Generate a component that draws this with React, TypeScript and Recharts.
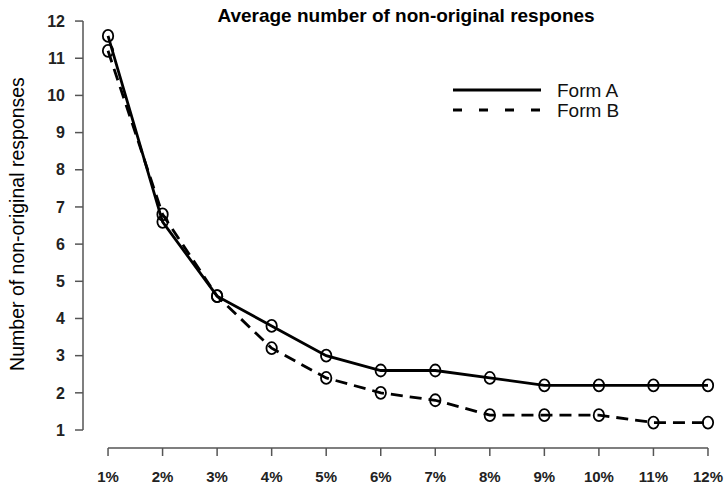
import React from "react";
import { LineChart, Line, XAxis, YAxis, ReferenceLine } from "recharts";

const categories = ["1%", "2%", "3%", "4%", "5%", "6%", "7%", "8%", "9%", "10%", "11%", "12%"];
const formA = [11.6, 6.6, 4.6, 3.8, 3.0, 2.6, 2.6, 2.4, 2.2, 2.2, 2.2, 2.2];
const formB = [11.2, 6.8, 4.6, 3.2, 2.4, 2.0, 1.8, 1.4, 1.4, 1.4, 1.2, 1.2];
const yTicks = [1, 2, 3, 4, 5, 6, 7, 8, 9, 10, 11, 12];
const xTicks = categories.map((_, i) => i + 1);

const data = categories.map((label, i) => ({ x: i + 1, label, a: formA[i], b: formB[i] }));

const FONT = '"Liberation Sans", Arial, sans-serif';
const AXIS = "#555";
// domains picked so the axes sit detached from the data, like base R plots
const X_DOMAIN: [number, number] = [0.541, 12.147];
const Y_DOMAIN: [number, number] = [0.516, 12.19];

const ODot = (props: any) => {
  const { cx, cy, index } = props;
  if (cx == null || cy == null) return null;
  return <ellipse key={index} cx={cx} cy={cy} rx={5.2} ry={6} fill="none" stroke="#000" strokeWidth={1.8} />;
};

export default function App() {
  return (
    <div style={{ position: "absolute", left: 0, top: 0, width: 724, height: 487, background: "#fff", fontFamily: FONT }}>
      <div
        style={{
          position: "absolute",
          left: 406,
          top: 5,
          transform: "translateX(-50%)",
          fontSize: 19,
          fontWeight: "bold",
          whiteSpace: "nowrap",
          color: "#000",
        }}
      >
        Average number of non-original respones
      </div>
      <div
        style={{
          position: "absolute",
          left: 17,
          top: 224,
          transform: "translate(-50%, -50%) rotate(-90deg)",
          fontSize: 19.5,
          whiteSpace: "nowrap",
          color: "#000",
        }}
      >
        Number of non-original responses
      </div>
      <svg width={180} height={44} style={{ position: "absolute", left: 453, top: 80 }}>
        <line x1={0} y1={10} x2={88} y2={10} stroke="#000" strokeWidth={3} />
        <line x1={0} y1={30} x2={88} y2={30} stroke="#000" strokeWidth={3} strokeDasharray="9 17" />
        <text x={104} y={17} fontSize={19} fontFamily={FONT} fill="#111">Form A</text>
        <text x={104} y={37} fontSize={19} fontFamily={FONT} fill="#111">Form B</text>
      </svg>
      <LineChart width={724} height={487} data={data} margin={{ top: 14, right: 8, bottom: 0, left: 23 }}>
        <XAxis
          dataKey="x"
          type="number"
          domain={X_DOMAIN}
          ticks={xTicks}
          tickFormatter={(v) => categories[v - 1]}
          height={39}
          axisLine={false}
          tickLine={{ stroke: AXIS, strokeWidth: 1.5 }}
          tickSize={8}
          tickMargin={15}
          tick={{ fill: "#222", fontSize: 15, fontWeight: "bold", fontFamily: FONT }}
          interval={0}
        />
        <YAxis
          type="number"
          domain={Y_DOMAIN}
          ticks={yTicks}
          width={60}
          axisLine={false}
          tickLine={{ stroke: AXIS, strokeWidth: 1.5 }}
          tickSize={8}
          tickMargin={10}
          tick={{ fill: "#222", fontSize: 16, fontWeight: "bold", fontFamily: FONT }}
          interval={0}
        />
        <ReferenceLine
          segment={[{ x: X_DOMAIN[0], y: 1 }, { x: X_DOMAIN[0], y: 12 }]}
          stroke={AXIS}
          strokeWidth={1.5}
          ifOverflow="visible"
        />
        <ReferenceLine
          segment={[{ x: 1, y: Y_DOMAIN[0] }, { x: 12, y: Y_DOMAIN[0] }]}
          stroke={AXIS}
          strokeWidth={1.5}
          ifOverflow="visible"
        />
        <Line
          type="linear"
          dataKey="a"
          name="Form A"
          stroke="#000"
          strokeWidth={2.8}
          dot={<ODot />}
          isAnimationActive={false}
        />
        <Line
          type="linear"
          dataKey="b"
          name="Form B"
          stroke="#000"
          strokeWidth={2.8}
          strokeDasharray="12 7"
          dot={<ODot />}
          isAnimationActive={false}
        />
      </LineChart>
    </div>
  );
}
